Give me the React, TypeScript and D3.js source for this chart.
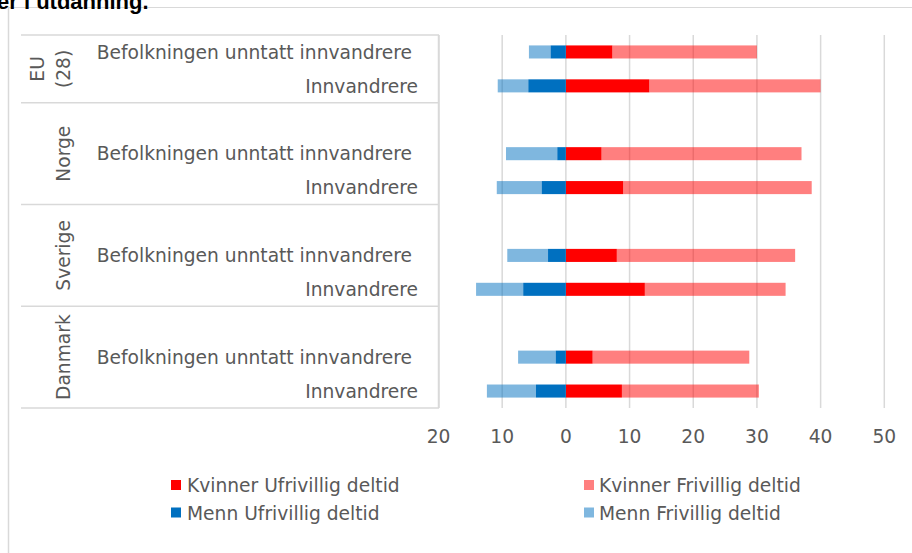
import React from "react";
import * as d3 from "d3";

// ---- data ----
const groups = ["EU (28)", "Norge", "Sverige", "Danmark"];
const rowGroup = ["EU (28)", "EU (28)", "Norge", "Norge", "Sverige", "Sverige", "Danmark", "Danmark"];
const rowLabel = [
  "Befolkningen unntatt innvandrere ", "Innvandrere",
  "Befolkningen unntatt innvandrere ", "Innvandrere",
  "Befolkningen unntatt innvandrere ", "Innvandrere",
  "Befolkningen unntatt innvandrere ", "Innvandrere",
];
const kvinnerUfrivillig = [7.3, 13.1, 5.6, 9.0, 8.0, 12.4, 4.2, 8.8];
const kvinnerFrivillig = [22.7, 26.9, 31.4, 29.6, 28.0, 22.1, 24.6, 21.5];
const mennUfrivillig = [2.4, 5.9, 1.35, 3.8, 2.8, 6.7, 1.6, 4.7];
const mennFrivillig = [3.4, 4.8, 8.05, 7.05, 6.4, 7.4, 5.9, 7.7];
const xTicks = [-20, -10, 0, 10, 20, 30, 40, 50];
const seriesNames = ["Kvinner Ufrivillig deltid", "Kvinner Frivillig deltid", "Menn Ufrivillig deltid", "Menn Frivillig deltid"];
const titleFragment = "er i utdanning.";

const FONT = "'DejaVu Sans', Verdana, sans-serif";
const TXT = "#595959";
const GRID = "#d9d9d9";

export default function App() {
  const W = 912, H = 553;
  const plotTop = 35, plotBottom = 408;

  // slots: blank slot before every group except the first
  const slots: { id: string; row: number | null; group: string }[] = [];
  groups.forEach((g, gi) => {
    if (gi > 0) slots.push({ id: `blank-${gi}`, row: null, group: g });
    rowGroup.forEach((rg, ri) => {
      if (rg === g) slots.push({ id: `row-${ri}`, row: ri, group: g });
    });
  });

  const y = d3.scaleBand<string>()
    .domain(slots.map((s) => s.id))
    .range([plotTop, plotBottom])
    .paddingInner(0.615)
    .paddingOuter(0.3075);
  const step = y.step();
  const x = d3.scaleLinear().domain([-20, 50]).range([438.5, 884.3]);

  const table = rowLabel.map((_, i) => ({
    id: `row-${i}`,
    ku: kvinnerUfrivillig[i],
    kf: kvinnerFrivillig[i],
    mu: -mennUfrivillig[i],
    mf: -mennFrivillig[i],
  }));
  const keys = ["ku", "kf", "mu", "mf"];
  const colors: Record<string, { fill: string; op: number }> = {
    ku: { fill: "#FF0000", op: 1 },
    kf: { fill: "#FF0000", op: 0.5 },
    mu: { fill: "#0070C0", op: 1 },
    mf: { fill: "#0070C0", op: 0.5 },
  };
  const stacked = d3.stack<any>().keys(keys).offset(d3.stackOffsetDiverging)(table);

  // group extents
  const groupExt = groups.map((g) => {
    const ids = slots.filter((s) => s.group === g).map((s) => s.id);
    const top = (y(ids[0]) as number) - (step - y.bandwidth()) / 2;
    const bottom = (y(ids[ids.length - 1]) as number) + y.bandwidth() + (step - y.bandwidth()) / 2;
    return { g, top, bottom };
  });

  const catLeft = 21, catRight = 439;
  const legendItems = [
    { key: "ku", name: seriesNames[0], sx: 171, tx: 187, ty: 492 },
    { key: "kf", name: seriesNames[1], sx: 584, tx: 599, ty: 492 },
    { key: "mu", name: seriesNames[2], sx: 171, tx: 187, ty: 519.5 },
    { key: "mf", name: seriesNames[3], sx: 584, tx: 599, ty: 519.5 },
  ];

  return (
    <svg width={W} height={H} style={{ position: "absolute", left: 0, top: 0, background: "#fff" }} fontFamily={FONT}>
      <rect x={0} y={0} width={W} height={H} fill="#fff" />
      {/* chart frame */}
      <line x1={8} x2={W} y1={7.5} y2={7.5} stroke={GRID} strokeWidth={1} />
      <line x1={8.5} x2={8.5} y1={7} y2={H} stroke={GRID} strokeWidth={1.5} />
      <text x={-3} y={9} fontFamily="'Liberation Sans', Arial, sans-serif" fontWeight="bold" fontSize={22} fill="#000">{titleFragment}</text>

      {/* gridlines */}
      {xTicks.map((t) => (
        <line key={t} x1={x(t)} x2={x(t)} y1={plotTop} y2={plotBottom} stroke={GRID} strokeWidth={1.5} />
      ))}

      {/* bars */}
      {stacked.map((s) => (
        <g key={s.key}>
          {s.map((d, i) => (
            <rect
              key={i}
              x={x(Math.min(d[0], d[1]))}
              width={Math.abs(x(d[1]) - x(d[0]))}
              y={y(table[i].id)}
              height={y.bandwidth()}
              fill={colors[s.key].fill}
              fillOpacity={colors[s.key].op}
            />
          ))}
        </g>
      ))}

      {/* category table lines */}
      {[plotTop, ...groupExt.map((e) => e.bottom)].map((yy, i) => (
        <line key={i} x1={catLeft} x2={catRight} y1={yy} y2={yy} stroke={GRID} strokeWidth={1.5} />
      ))}
      <line x1={catRight} x2={catRight} y1={plotTop} y2={plotBottom} stroke={GRID} strokeWidth={1.5} />

      {/* row labels */}
      {table.map((r, i) => (
        <text
          key={r.id}
          x={418}
          y={(y(r.id) as number) + y.bandwidth() / 2}
          dy="0.36em"
          textAnchor="end"
          fontSize={18.67}
          fill={TXT}
          style={{ whiteSpace: "pre" }}
        >
          {rowLabel[i]}
        </text>
      ))}

      {/* group labels */}
      {groupExt.map((e) => {
        const h = e.bottom - e.top;
        const lines = e.g.length * 11.2 > h - 4 ? e.g.split(" ") : [e.g];
        const cy = (e.top + e.bottom) / 2;
        return (
          <g key={e.g}>
            {lines.map((ln, li) => {
              const bx = 70 - (lines.length - 1 - li) * 26;
              return (
                <text key={li} transform={`translate(${bx},${cy}) rotate(-90)`} textAnchor="middle" fontSize={18.67} fill={TXT}>
                  {ln}
                </text>
              );
            })}
          </g>
        );
      })}

      {/* x tick labels */}
      {xTicks.map((t) => (
        <text key={t} x={x(t)} y={443} textAnchor="middle" fontSize={18.67} fill={TXT}>
          {Math.abs(t)}
        </text>
      ))}

      {/* legend */}
      {legendItems.map((l) => (
        <g key={l.key}>
          <rect x={l.sx} y={l.ty - 12} width={10} height={10} fill={colors[l.key].fill} fillOpacity={colors[l.key].op} />
          <text x={l.tx} y={l.ty} fontSize={18.67} fill={TXT}>{l.name}</text>
        </g>
      ))}
    </svg>
  );
}
